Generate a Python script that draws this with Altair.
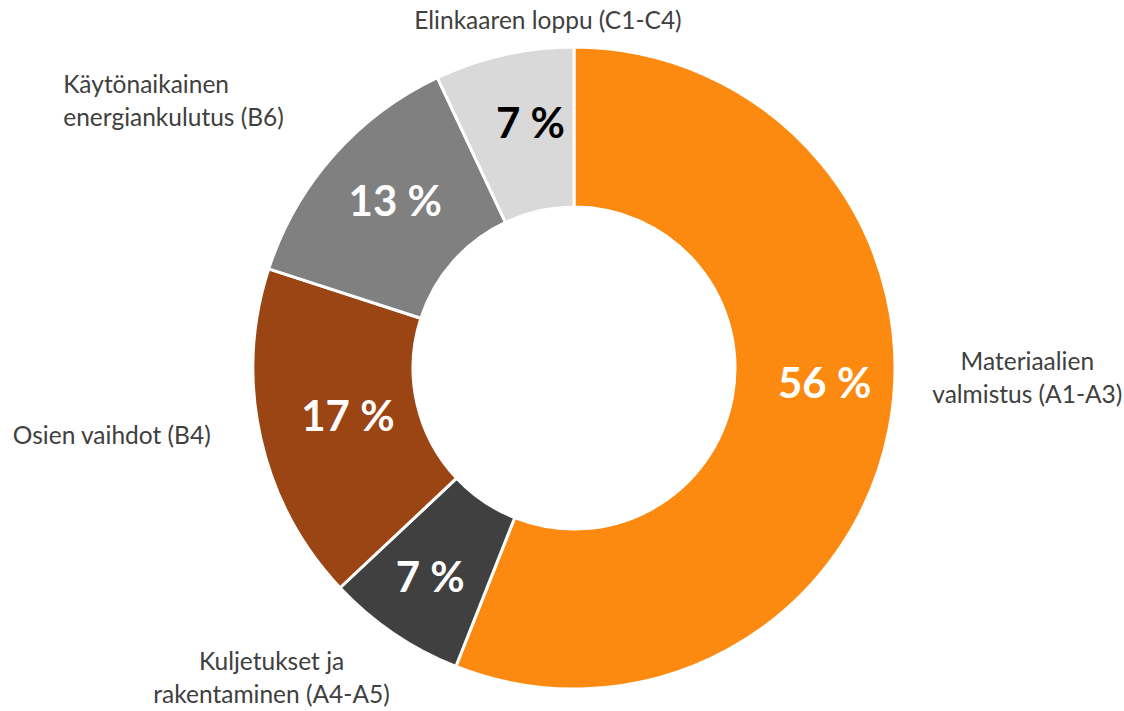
import math
import altair as alt
import pandas as pd

categories = [
    "Materiaalien valmistus (A1-A3)",
    "Kuljetukset ja rakentaminen (A4-A5)",
    "Osien vaihdot (B4)",
    "Käytönaikainen energiankulutus (B6)",
    "Elinkaaren loppu (C1-C4)",
]
label_lines = [
    "Materiaalien\nvalmistus (A1-A3)",
    "Kuljetukset ja\nrakentaminen (A4-A5)",
    "Osien vaihdot (B4)",
    "Käytönaikainen\nenergiankulutus (B6)",
    "Elinkaaren loppu (C1-C4)",
]
values = [56, 7, 17, 13, 7]
colors = ["#FD8A10", "#404040", "#9B4515", "#808080", "#D9D9D9"]
value_text_colors = ["white", "white", "white", "white", "black"]

df = pd.DataFrame({
    "category": categories,
    "label": label_lines,
    "value": values,
    "order": list(range(len(values))),
    "pct": [f"{v} %" for v in values],
})

theta_scale = alt.Scale(domain=[0, 1], range=[0, 2 * math.pi])

base = (
    alt.Chart(df)
    .transform_joinaggregate(total="sum(value)")
    .transform_window(cum="sum(value)", sort=[alt.SortField("order")], frame=[None, 0])
    .transform_calculate(
        start="(datum.cum - datum.value) / datum.total",
        end="datum.cum / datum.total",
        mid="(datum.cum - datum.value / 2) / datum.total",
    )
)

arcs = base.mark_arc(innerRadius=161, outerRadius=321, stroke="white", strokeWidth=3).encode(
    theta=alt.Theta("start:Q", scale=theta_scale),
    theta2="end:Q",
    color=alt.Color("category:N", scale=alt.Scale(domain=categories, range=colors), legend=None),
)

# style nudges for labels (dx, dy)
value_nudges = [(10, -29), (-6, 8), (13, -3), (5, -3), (10, -4)]
label_styles = [
    dict(align="center", dx=138, dy=-65),
    dict(align="center", dx=-122, dy=30),
    dict(align="center", dx=-149, dy=-1),
    dict(align="left", dx=-270, dy=-70),
    dict(align="center", dx=44, dy=-33),
]

layers = [arcs]
for i in range(len(values)):
    layers.append(
        base.transform_filter(alt.datum.order == i)
        .mark_text(
            radius=245, font="Lato", fontSize=42, fontWeight="bold",
            color=value_text_colors[i], dx=value_nudges[i][0], dy=value_nudges[i][1],
            baseline="middle", align="center",
        )
        .encode(theta=alt.Theta("mid:Q", scale=theta_scale, stack=None), text="pct:N")
    )
    st = label_styles[i]
    layers.append(
        base.transform_filter(alt.datum.order == i)
        .mark_text(
            radius=321, font="Lato", fontSize=24.5, color="#404040",
            lineBreak="\n", lineHeight=33, baseline="middle",
            align=st["align"], dx=st["dx"], dy=st["dy"],
        )
        .encode(theta=alt.Theta("mid:Q", scale=theta_scale, stack=None), text="label:N")
    )

chart = (
    alt.layer(*layers)
    .properties(
        width=1100, height=686,
        padding={"left": 24, "top": 25, "right": 0, "bottom": 0},
        autosize=alt.AutoSizeParams(type="none"),
        background="white",
    )
    .configure_view(stroke=None)
)

chart.save("out.html", embed_options={"renderer": "svg", "actions": False})
